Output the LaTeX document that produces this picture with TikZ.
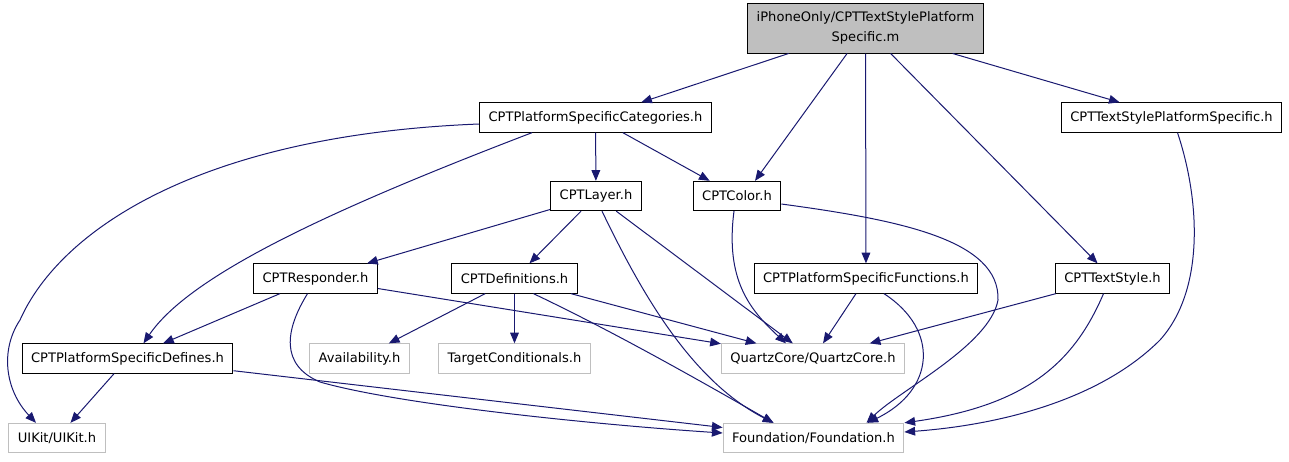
\documentclass[tikz,border=0pt]{standalone}
\usepackage{fontspec}
\setmainfont{DejaVu Sans}
\usepackage{xcolor}
\usepackage{tikz}
\usetikzlibrary{calc,arrows.meta}
\definecolor{edgec}{HTML}{191970}
\definecolor{greyc}{HTML}{BFBFBF}
\tikzset{
  dep/.style={-{Triangle[length=8pt,width=6.5pt]},line width=0.75pt,edgec},
  doc/.style={draw=black,line width=0.75pt,fill=white,inner xsep=6.8pt,minimum height=22pt,font=\fontsize{9.8}{15}\selectfont},
  ext/.style={doc,draw=greyc},
  root/.style={doc,fill=greyc,align=center,minimum height=37.5pt,inner ysep=2pt}
}

\begin{document}
\begin{tikzpicture}[x=0.75pt,y=-0.75pt]
\useasboundingbox (0,0) rectangle (1289,461);
\node[root] (main) at (865.5,28) {iPhoneOnly/CPTTextStylePlatform\\Specific.m};
\node[doc] (cat) at (595.5,117.5) {CPTPlatformSpecificCategories.h};
\node[doc] (tsps) at (1171.5,117.5) {CPTTextStylePlatformSpecific.h};
\node[doc] (layer) at (596,196) {CPTLayer.h};
\node[doc] (color) at (737,196) {CPTColor.h};
\node[doc] (resp) at (315.5,278.5) {CPTResponder.h};
\node[doc] (defs) at (514.5,278.5) {CPTDefinitions.h};
\node[doc] (psf) at (866,278.5) {CPTPlatformSpecificFunctions.h};
\node[doc] (tstyle) at (1112.5,278.5) {CPTTextStyle.h};
\node[doc] (pdef) at (127.5,358.5) {CPTPlatformSpecificDefines.h};
\node[ext] (avail) at (359.5,358.5) {Availability.h};
\node[ext] (target) at (514.5,358.5) {TargetConditionals.h};
\node[ext] (quartz) at (813,358.5) {QuartzCore/QuartzCore.h};
\node[ext] (uikit) at (57,438) {UIKit/UIKit.h};
\node[ext] (found) at (813.5,438) {Foundation/Foundation.h};

\draw[dep] (main) -- (cat);
\draw[dep] (main) -- ($(color.north)+(18,0)$);
\draw[dep] (main) -- (psf);
\draw[dep] (main) -- (tstyle);
\draw[dep] (main) -- (tsps);
\draw[dep] (cat) -- (layer);
\draw[dep] (cat) -- (color);
\draw[dep] ($(cat.west)+(0,6.5)$) .. controls (200,135) and (60,230) .. (20,320)
  .. controls (0,350) and (5,390) .. ($(uikit.north)+(-21,0)$);
\draw[dep] ($(cat.south west)+(53,0)$) .. controls (330,210) and (190,275) .. ($(pdef.north)+(16,0)$);
\draw[dep] ($(tsps.south)+(6,0)$) .. controls (1200,200) and (1205,290) .. (1160,340)
  .. controls (1100,400) and (1000,425) .. ($(found.east)+(0,-6)$);
\draw[dep] (layer) -- (resp);
\draw[dep] (layer) -- (defs);
\draw[dep] (layer) -- (quartz);
\draw[dep] ($(layer.south)+(6,0)$) .. controls (640,290) and (690,380) .. ($(found.north)+(-40,0)$);
\draw[dep] ($(color.south)+(-3,0)$) .. controls (725,280) and (750,310) .. ($(quartz.north)+(-27,0)$);
\draw[dep] ($(color.east)+(0,8)$) .. controls (900,220) and (1000,240) .. (998,300)
  .. controls (990,345) and (900,390) .. ($(found.north)+(53,0)$);
\draw[dep] (resp) -- (pdef);
\draw[dep] (resp) -- (quartz);
\draw[dep] ($(resp.south)+(-8,0)$) .. controls (285,330) and (280,365) .. (320,382)
  .. controls (400,405) and (600,425) .. ($(found.west)+(0,-5)$);
\draw[dep] (defs) -- (avail);
\draw[dep] (defs) -- (target);
\draw[dep] (defs) -- (quartz);
\draw[dep] ($(defs.south)+(19,0)$) .. controls (610,330) and (690,375) .. ($(found.north)+(-40,0)$);
\draw[dep] (psf) -- (quartz);
\draw[dep] ($(psf.south)+(18,0)$) .. controls (940,330) and (935,390) .. ($(found.north)+(54,0)$);
\draw[dep] (tstyle) -- (quartz);
\draw[dep] ($(tstyle.south)+(-9,0)$) .. controls (1075,360) and (1030,405) .. (found.north east);
\draw[dep] (pdef) -- (uikit);
\draw[dep] (pdef) -- (found);
\end{tikzpicture}
\end{document}
